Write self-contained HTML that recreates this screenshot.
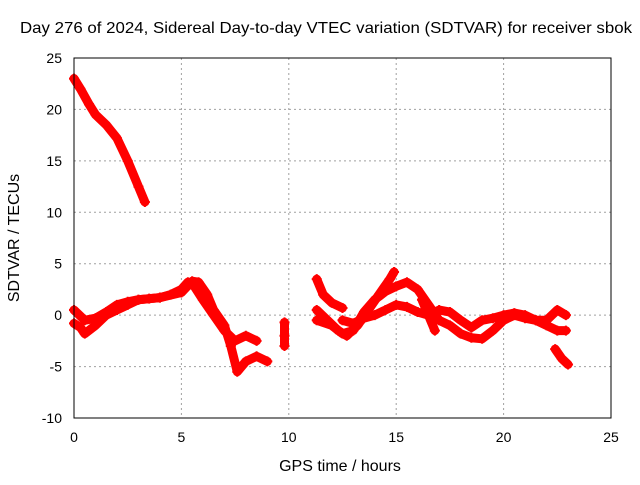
<!DOCTYPE html>
<html><head><meta charset="utf-8"><style>
body{margin:0;background:#fff;}
svg text{font-family:"Liberation Sans",sans-serif;font-size:14px;fill:#000;}
svg text.big{font-size:16px;}
</style></head><body>
<svg id="chart" width="640" height="480" xmlns="http://www.w3.org/2000/svg">
<text class="big" x="20" y="33" textLength="612" lengthAdjust="spacingAndGlyphs">Day 276 of 2024, Sidereal Day-to-day VTEC variation (SDTVAR) for receiver sbok</text>
<text class="big" x="340" y="471" text-anchor="middle">GPS time / hours</text>
<text class="big" transform="translate(19,238) rotate(-90)" text-anchor="middle">SDTVAR / TECUs</text>
<g id="grid"></g><g id="ticks"></g><g id="series"></g>
<rect x="74" y="58" width="537" height="360" fill="none" stroke="#000" stroke-width="1"/>
</svg>
<script>
const xTicks=[0,5,10,15,20,25];
const yTicks=[-10,-5,0,5,10,15,20,25];
const track1=[[0,23],[0.3,22],[0.7,20.5],[1,19.5],[1.5,18.5],[2,17.2],[2.5,15],[3,12.5],[3.3,11]];
const track2=[[0,0.5],[0.5,-0.5],[1,-0.3],[1.5,0.3],[2,1],[2.5,1.3],[3,1.5],[3.5,1.6],[4,1.7],[4.5,2],[5,2.5],[5.3,3.2],[5.6,2.8],[6,1.5],[6.5,0],[7,-1.5],[7.5,-2.5],[8,-2],[8.5,-2.5]];
const track3=[[0,-0.8],[0.3,-1.2],[0.5,-1.8],[1,-1],[1.5,0],[2,0.5],[2.5,1],[3,1.5],[4,1.7],[5,2.2],[5.5,3.3],[5.8,3.2],[6.2,2],[6.5,0.5],[7,-1],[7.3,-3],[7.6,-5.5],[8,-4.5],[8.5,-4],[9,-4.5]];
const track4=[[9.8,-0.7],[9.8,-2],[9.8,-3]];
const track5=[[11.3,3.5],[11.6,2],[12,1.2],[12.5,0.7]];
const track6=[[11.3,0.5],[11.8,-0.5],[12.3,-1.5],[12.7,-2],[13.2,-1],[13.7,0.5],[14.2,2],[14.7,3.5],[14.9,4.2]];
const track7=[[11.3,-0.5],[12,-1],[12.5,-1.8],[13,-1.5],[13.5,0.3],[14,1.5],[14.5,2.3],[15,2.8],[15.5,3.2],[16,2.5],[16.5,1],[17,-0.5],[17.5,-1],[18,-1.8],[18.5,-2.2],[19,-2.3],[19.5,-1.5],[20,-0.5],[20.5,0],[21,-0.3],[21.5,-0.5],[22,-0.5],[22.5,0.5],[22.9,0]];
const track8=[[12.5,-0.5],[13,-0.8],[13.5,-0.3],[14,0],[14.5,0.5],[15,1],[15.5,0.8],[16,0.3],[16.5,0],[17,0.5],[17.5,0.3],[18,-0.5],[18.5,-1.2],[19,-0.5],[19.5,-0.3],[20,0],[20.5,0.2],[21,0],[21.5,-0.5],[22,-1],[22.5,-1.5],[22.9,-1.5]];
const track9=[[16.2,1.5],[16.5,0],[16.8,-1.5]];
const track10=[[22.4,-3.3],[22.7,-4.2],[23,-4.8]];
const tracks=[track1,track2,track3,track4,track5,track6,track7,track8,track9,track10];
const X0=74,X1=611,Y0=418,Y1=58;
const xs=v=>X0+(v-0)/25*(X1-X0);
const ys=v=>Y0-(v+10)/35*(Y0-Y1);
const NS="http://www.w3.org/2000/svg";
const g=document.getElementById('grid'),t=document.getElementById('ticks'),s=document.getElementById('series');
function mk(tag,attrs,parent){const e=document.createElementNS(NS,tag);for(const k in attrs)e.setAttribute(k,attrs[k]);parent.appendChild(e);return e;}
xTicks.forEach(v=>{
 if(v>0&&v<25){const l=mk('line',{x1:xs(v),x2:xs(v),y1:Y1,y2:Y0,stroke:'#a0a0a0','stroke-dasharray':'2,3'},g);
 
 }
 const tx=mk('text',{x:xs(v),y:Y0+24,'text-anchor':'middle'},t);tx.textContent=v;
 
 
});
yTicks.forEach(v=>{
 if(v>-10&&v<25){const l=mk('line',{x1:X0,x2:X1,y1:ys(v),y2:ys(v),stroke:'#a0a0a0','stroke-dasharray':'2,3'},g);
 
 }
 const tx=mk('text',{x:X0-12,y:ys(v)+5,'text-anchor':'end'},t);tx.textContent=v;
 
 
});
tracks.forEach((tr,i)=>{
 const p=mk('polyline',{points:tr.map(d=>xs(d[0])+','+ys(d[1])).join(' '),fill:'none',stroke:'#ff0000','stroke-width':9,'stroke-linejoin':'round','stroke-linecap':'round'},s);
 
 
 tr.forEach(d=>{
  const m=mk('path',{d:`M${xs(d[0])-5},${ys(d[1])}h10M${xs(d[0])},${ys(d[1])-5}v10`,stroke:'#ff0000','stroke-width':2},s);
  
  
 });
});
</script>
</body></html>
